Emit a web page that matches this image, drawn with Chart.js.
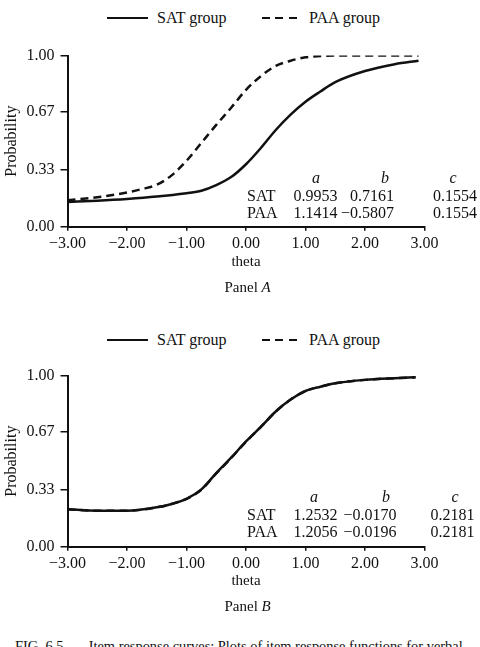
<!DOCTYPE html>
<html><head><meta charset="utf-8">
<script src="https://cdn.jsdelivr.net/npm/chart.js@4/dist/chart.umd.min.js"></script>
<style>
html,body{margin:0;padding:0;background:#fff;width:480px;height:647px;overflow:hidden;}
body{position:relative;font-family:"Liberation Serif","Times New Roman",serif;color:#111;}
.abs{position:absolute;white-space:nowrap;line-height:1;}
canvas{position:absolute;left:0;}
.leg-solid{position:absolute;height:0;border-top:2.5px solid #111;}
.leg-dash{position:absolute;height:2.5px;background:repeating-linear-gradient(to right,#111 0 8px,transparent 8px 13.5px);}
</style></head><body>
<canvas id="chartA" width="480" height="240" style="top:40px"></canvas>
<canvas id="chartB" width="480" height="240" style="top:360px"></canvas>
<div id="overlay"></div>
<script>
// ---- data ----
const thetaA = [-3, -2.5, -2, -1.5, -1, -0.75, -0.5, -0.25, 0, 0.25, 0.5, 0.75, 1, 1.25, 1.5, 2, 2.5, 2.9];
const satA   = [0.145, 0.152, 0.162, 0.176, 0.196, 0.21, 0.243, 0.29, 0.365, 0.46, 0.565, 0.655, 0.73, 0.79, 0.845, 0.91, 0.95, 0.97];
const paaThetaA = [-3, -2.5, -2, -1.75, -1.5, -1.25, -1, -0.75, -0.5, -0.25, 0, 0.25, 0.5, 0.75, 1, 1.5, 2, 2.5, 2.9];
const paaA   = [0.155, 0.172, 0.2, 0.22, 0.245, 0.3, 0.385, 0.49, 0.595, 0.695, 0.8, 0.88, 0.94, 0.97, 0.99, 1.0, 1.0, 1.0, 1.0];
const thetaB = [-3, -2.5, -2, -1.5, -1.25, -1, -0.75, -0.5, -0.25, 0, 0.25, 0.5, 0.75, 1, 1.25, 1.5, 2, 2.5, 2.85];
const satB   = [0.219, 0.21, 0.21, 0.23, 0.25, 0.28, 0.335, 0.43, 0.52, 0.615, 0.70, 0.79, 0.86, 0.91, 0.935, 0.955, 0.975, 0.985, 0.99];
const paaB   = [0.219, 0.21, 0.21, 0.23, 0.25, 0.28, 0.333, 0.428, 0.518, 0.613, 0.70, 0.79, 0.86, 0.91, 0.935, 0.955, 0.975, 0.985, 0.99];
const xTickValues = [-3, -2, -1, 0, 1, 2, 3];
const yTickValues = [0, 0.33, 0.67, 1.0];
const seriesNames = ['SAT group', 'PAA group'];
const paramHeaders = ['a', 'b', 'c'];
const paramRowsA = [['SAT', '0.9953', '0.7161', '0.1554'], ['PAA', '1.1414', '\u22120.5807', '0.1554']];
const paramRowsB = [['SAT', '1.2532', '\u22120.0170', '0.2181'], ['PAA', '1.2056', '\u22120.0196', '0.2181']];
const panelNames = ['A', 'B'];
const captionText = 'FIG. 6.5.\u2003\u2002Item response curves: Plots of item response functions for verbal';

const FONT = '"Liberation Serif", "Times New Roman", serif';
const INK = '#111';

function pts(xs, ys) { return xs.map((x, i) => ({x: x, y: ys[i]})); }
function fmtX(v) { return (v < 0 ? '\u2212' : '') + Math.abs(v).toFixed(2); }

function makeChart(id, satX, satY, paaX, paaY, padTop, titlePadBottom) {
  return new Chart(document.getElementById(id), {
    type: 'line',
    data: {datasets: [
      {label: seriesNames[0], data: pts(satX, satY), borderColor: INK, borderWidth: 2.5,
       pointRadius: 0, cubicInterpolationMode: 'monotone', fill: false},
      {label: seriesNames[1], data: pts(paaX, paaY), borderColor: INK, borderWidth: 2.5,
       borderDash: [8, 5], pointRadius: 0, cubicInterpolationMode: 'monotone', fill: false}
    ]},
    options: {
      responsive: false, animation: false, devicePixelRatio: 1,
      layout: {padding: {left: 0, right: 55.5, top: padTop, bottom: 0}},
      plugins: {legend: {display: false}, tooltip: {enabled: false}},
      scales: {
        x: {
          type: 'linear', min: -3, max: 3,
          afterBuildTicks: s => { s.ticks = xTickValues.map(v => ({value: v})); },
          ticks: {callback: v => fmtX(v), color: INK, font: {family: FONT, size: 16}, padding: 3, maxRotation: 0, autoSkip: false},
          grid: {drawOnChartArea: false, drawTicks: true, tickLength: 4, color: INK, lineWidth: 1.5},
          border: {display: true, color: INK, width: 2},
          title: {display: true, text: 'theta', color: INK, font: {family: FONT, size: 15}, padding: {top: 0, bottom: titlePadBottom}},
          afterFit: s => { s.height = 53.3; }
        },
        y: {
          min: 0, max: 1,
          afterBuildTicks: s => { s.ticks = yTickValues.map(v => ({value: v})); },
          ticks: {callback: v => v.toFixed(2), color: INK, font: {family: FONT, size: 16}, padding: 6, autoSkip: false},
          grid: {drawOnChartArea: false, drawTicks: true, tickLength: 7, color: INK, lineWidth: 1.5},
          border: {display: true, color: INK, width: 2},
          title: {display: true, text: 'Probability', color: INK, font: {family: FONT, size: 16}, padding: {top: 2, bottom: 0}},
          afterFit: s => { s.width = 67.5; }
        }
      }
    }
  });
}

makeChart('chartA', thetaA, satA, paaThetaA, paaA, 13.3, 8.5);
makeChart('chartB', thetaB, satB, thetaB, paaB, 14.3, 10);

// ---- HTML text: legends, parameter tables, panel labels, caption ----
const ov = document.getElementById('overlay');
function place(html, x, cy, align, size, italic) {
  const d = document.createElement('div');
  d.className = 'abs';
  d.innerHTML = html;
  d.style.fontSize = size + 'px';
  if (italic) d.style.fontStyle = 'italic';
  d.style.top = (cy - size / 2) + 'px';
  ov.appendChild(d);
  const w = d.offsetWidth;
  if (align === 'left') d.style.left = x + 'px';
  else if (align === 'right') d.style.left = (x - w) + 'px';
  else d.style.left = (x - w / 2) + 'px';
  return d;
}
function legend(cy) {
  const s = document.createElement('div'); s.className = 'leg-solid';
  s.style.left = '107px'; s.style.width = '41px'; s.style.top = (cy - 1.25) + 'px'; ov.appendChild(s);
  place(seriesNames[0], 157, cy, 'left', 16);
  const d = document.createElement('div'); d.className = 'leg-dash';
  d.style.left = '262px'; d.style.width = '35px'; d.style.top = (cy - 1.25) + 'px'; ov.appendChild(d);
  place(seriesNames[1], 309, cy, 'left', 16);
}
function table(rows, yHead, y1, y2, headX, colRight) {
  paramHeaders.forEach((h, i) => place(h, headX[i], yHead, 'center', 16, true));
  [y1, y2].forEach((y, r) => {
    place(rows[r][0], 247, y, 'left', 16);
    for (let c = 1; c < 4; c++) place(rows[r][c], colRight[c - 1], y, 'right', 16);
  });
}
legend(18);
legend(340);
table(paramRowsA, 178, 195.5, 212.5, [316, 385, 453], [337.5, 394, 477]);
table(paramRowsB, 497, 514.5, 531.5, [314, 386, 455], [337.5, 396.5, 474.5]);
place('Panel <i>' + panelNames[0] + '</i>', 247.5, 287.5, 'center', 15);
place('Panel <i>' + panelNames[1] + '</i>', 247.5, 606.5, 'center', 15);
const cap = place(captionText, 15, 646.5, 'left', 15);
const scale = 448 / cap.offsetWidth;
cap.style.fontSize = (15 * scale) + 'px';
cap.style.top = (646.5 - 15 * scale / 2) + 'px';
</script>
</body></html>
